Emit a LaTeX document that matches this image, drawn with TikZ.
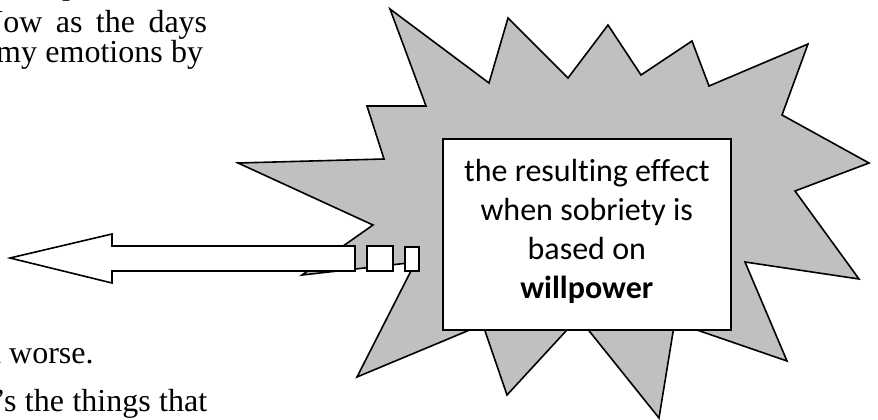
\documentclass[tikz,border=0pt]{standalone}
\usepackage{fontspec}
\setmainfont{Liberation Serif}
\newfontfamily\calfont[Ligatures=NoCommon]{Carlito}
\definecolor{burstgray}{RGB}{192,192,192}
\begin{document}
\begin{tikzpicture}[x=1pt,y=-1pt,
  burst/.style={fill=burstgray,draw=black,line width=1.6pt,line join=miter},
  textbox/.style={fill=white,draw=black,line width=1.6pt,inner sep=0pt},
  boxtext/.style={align=center,inner sep=0pt,font=\calfont\fontsize{32}{39}\selectfont},
  blockarrow/.style={fill=white,draw=black,line width=1.6pt},
  bodytext/.style={inner sep=0pt,anchor=base west,font=\fontsize{32}{37}\selectfont}]
  \clip (0,0) rectangle (878,420);
  \node[bodytext] (p1) at (62,-5) {p};
  \node[bodytext] (p2) at (-20,33) {\makebox[227pt][s]{Now as the days}};
  \node[bodytext] (p3) at (-4,63) {\makebox[207pt][s]{my emotions by}};
  \node[bodytext] (p4) at (-15,363) {d worse.};
  \node[bodytext] (p5) at (-5,411) {\makebox[212pt][s]{'s the things that}};
  \draw[burst] (390,9) -- (489,83) -- (508,18) -- (568,78) -- (608,25)
    -- (641,75) -- (692,41) -- (709,86) -- (808,44) -- (782,115)
    -- (869,163) -- (795,191) -- (859,279) -- (745,262) -- (787,361)
    -- (674.6,322.3) -- (659,418) -- (578.4,317.5) -- (507,395)
    -- (482.8,324.5) -- (357,377) -- (415.4,262.2) -- (302,275)
    -- (373,225) -- (238,163) -- (384,159) -- (367,106) -- (426,106)
    -- cycle;
  \node[textbox,minimum width=288pt,minimum height=191pt,anchor=north west]
    (effect) at (442,138) {};
  \node[boxtext] (effecttext) at ([yshift=3pt]effect.center)
    {the resulting effect\\when sobriety is\\based on\\\textbf{willpower}};
  \draw[blockarrow] (10,258) -- (112,234) -- (112,246) -- (355,246)
    -- (355,271) -- (112,271) -- (112,283) -- cycle;
  \draw[blockarrow] (367,246) rectangle (393,271);
  \draw[blockarrow] (405,247) rectangle (419,271);
\end{tikzpicture}
\end{document}
